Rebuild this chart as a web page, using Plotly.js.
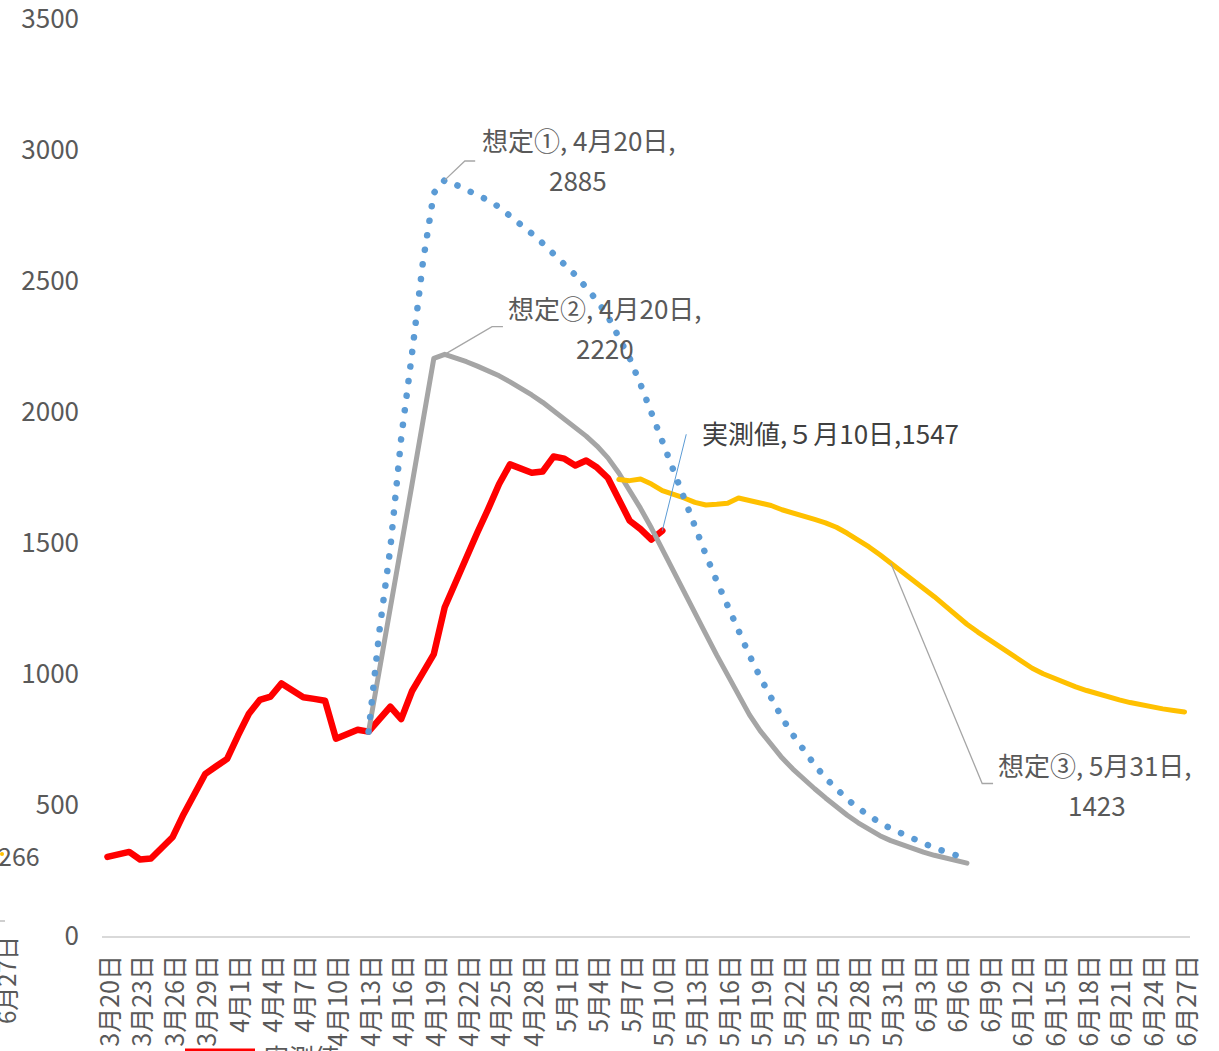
<!DOCTYPE html>
<html>
<head>
<meta charset="utf-8">
<script src="https://cdn.plot.ly/plotly-3.0.1.min.js"></script>
<style>
  html, body { margin: 0; padding: 0; background: #ffffff; }
  #chart { width: 1219px; height: 1051px; }
</style>
</head>
<body>
<div id="chart"></div>
<script>
// Daily categories, 3月20日 – 6月27日
const dates = [
  '3月20日','3月21日','3月22日','3月23日','3月24日','3月25日','3月26日','3月27日','3月28日','3月29日','3月30日','3月31日',
  '4月1日','4月2日','4月3日','4月4日','4月5日','4月6日','4月7日','4月8日','4月9日','4月10日',
  '4月11日','4月12日','4月13日','4月14日','4月15日','4月16日','4月17日','4月18日','4月19日','4月20日',
  '4月21日','4月22日','4月23日','4月24日','4月25日','4月26日','4月27日','4月28日','4月29日','4月30日',
  '5月1日','5月2日','5月3日','5月4日','5月5日','5月6日','5月7日','5月8日','5月9日','5月10日',
  '5月11日','5月12日','5月13日','5月14日','5月15日','5月16日','5月17日','5月18日','5月19日','5月20日',
  '5月21日','5月22日','5月23日','5月24日','5月25日','5月26日','5月27日','5月28日','5月29日','5月30日','5月31日',
  '6月1日','6月2日','6月3日','6月4日','6月5日','6月6日','6月7日','6月8日','6月9日','6月10日',
  '6月11日','6月12日','6月13日','6月14日','6月15日','6月16日','6月17日','6月18日','6月19日','6月20日',
  '6月21日','6月22日','6月23日','6月24日','6月25日','6月26日','6月27日'
];

// Axis tick labels (every third day)
const tickLabels = [
  '3月20日','3月23日','3月26日','3月29日','4月1日','4月4日','4月7日','4月10日','4月13日','4月16日',
  '4月19日','4月22日','4月25日','4月28日','5月1日','5月4日','5月7日','5月10日','5月13日','5月16日',
  '5月19日','5月22日','5月25日','5月28日','5月31日','6月3日','6月6日','6月9日','6月12日','6月15日',
  '6月18日','6月21日','6月24日','6月27日'
];
const yTicks = [0, 500, 1000, 1500, 2000, 2500, 3000, 3500];

// 実測値 (3月20日 – 5月10日)
const actualStart = '3月20日';
const actual = [
  302, 312, 321, 292, 296, 337, 378, 465, 545, 619, 648, 676,
  765, 848, 901, 914, 964, 937, 911, 905, 898, 753, 770, 787,
  780, 830, 875, 828, 935, 1005, 1076, 1255, 1355, 1447, 1540, 1630,
  1725, 1800, 1785, 1768, 1773, 1830, 1822, 1796, 1815, 1788, 1748, 1668,
  1585, 1553, 1513, 1547
];

// 想定① (4月13日 – 6月7日)
const scen1Start = '4月13日';
const scen1 = [
  780, 1165, 1480, 1900, 2225, 2573, 2836, 2885, 2868, 2848, 2830, 2808,
  2782, 2750, 2718, 2681, 2644, 2606, 2565, 2523, 2475, 2425, 2365, 2290,
  2205, 2105, 1995, 1884, 1772, 1665, 1560, 1455, 1355, 1258, 1162, 1072,
  987, 907, 833, 768, 708, 653, 603, 560, 522, 488, 457, 432,
  410, 390, 370, 352, 336, 322, 308, 295
];

// 想定② (4月13日 – 6月7日)
const scen2Start = '4月13日';
const scen2 = [
  780, 1010, 1250, 1490, 1725, 1965, 2205, 2220, 2208, 2192, 2175, 2157,
  2138, 2115, 2092, 2065, 2037, 2005, 1975, 1942, 1908, 1870, 1825, 1767,
  1702, 1632, 1557, 1478, 1397, 1315, 1233, 1152, 1072, 993, 915, 845,
  783, 728, 680, 637, 598, 562, 527, 493, 461, 432, 406, 383,
  364, 348, 333, 320, 308, 297, 287, 278
];

// 想定③ (5月6日 – 6月27日)
const scen3Start = '5月6日';
const scen3 = [
  1742, 1738, 1744, 1725, 1700, 1688, 1672, 1655, 1645, 1648, 1652, 1672,
  1662, 1652, 1643, 1627, 1613, 1603, 1590, 1577, 1560, 1537, 1512, 1485,
  1455, 1423, 1393, 1362, 1330, 1295, 1260, 1224, 1190, 1160, 1132, 1104,
  1076, 1048, 1022, 1001, 983, 966, 951, 937, 924, 912, 901, 891,
  882, 874, 867, 861, 855
];

const seriesNames = ['実測値', '想定①', '想定②', '想定③'];

// ---------- helpers ----------
function xsFrom(start, values) {
  const s = dates.indexOf(start);
  return values.map((_, k) => dates[s + k]);
}
function valueAt(start, values, day) {
  return values[dates.indexOf(day) - dates.indexOf(start)];
}

const FONT = '"Noto Sans CJK JP", "Noto Sans", sans-serif';
const TXT = '#595959';

// plot-area geometry (pixels) used for the paper-positioned edge items
const M = { l: 102, r: 29, t: 19, b: 115 };
const PW = 1219 - M.l - M.r, PH = 1051 - M.t - M.b, BOTTOM = 1051 - M.b;
const px = function (p) { return (p - M.l) / PW; };
const py = function (p) { return (BOTTOM - p) / PH; };

const traces = [
  { name: seriesNames[0], x: xsFrom(actualStart, actual), y: actual, type: 'scatter', mode: 'lines',
    line: { color: '#ff0000', width: 6.5 } },
  { name: seriesNames[2], x: xsFrom(scen2Start, scen2), y: scen2, type: 'scatter', mode: 'lines',
    line: { color: '#a5a5a5', width: 5 } },
  { name: seriesNames[3], x: xsFrom(scen3Start, scen3), y: scen3, type: 'scatter', mode: 'lines',
    line: { color: '#ffc000', width: 5 } },
  { name: seriesNames[1], x: xsFrom(scen1Start, scen1), y: scen1, type: 'scatter', mode: 'lines',
    line: { color: '#5b9bd5', width: 6.5, dash: '0.1px,14.6px' } }
];

// ---------- callout labels ----------
const d1 = '4月20日', d2 = '4月20日', dA = '5月10日', d3 = '5月31日';
const v1 = valueAt(scen1Start, scen1, d1);
const v2 = valueAt(scen2Start, scen2, d2);
const vA = valueAt(actualStart, actual, dA);
const v3 = valueAt(scen3Start, scen3, d3);
const i1 = dates.indexOf(d1), i2 = dates.indexOf(d2), iA = dates.indexOf(dA), i3 = dates.indexOf(d3);

function label(text, x, y, size, color) {
  return { text: text, x: x, y: y, xref: 'x', yref: 'y', showarrow: false,
           xanchor: 'center', yanchor: 'middle',
           font: { family: FONT, size: size || 26, color: color || TXT } };
}

const annotations = [
  label(seriesNames[1] + ', ' + d1 + ',', 43.35, 3040),
  label(String(v1), 43.25, 2887),
  label(seriesNames[2] + ', ' + d2 + ',', 45.74, 2400),
  label(String(v2), 45.74, 2248),
  label(seriesNames[0] + ',５月10日,' + vA, 66.5, 1920, 26, '#404040'),
  label(seriesNames[3] + ', ' + d3 + ',', 90.78, 653),
  label(String(v3), 90.96, 501),
  // partial items at the lower-left edge of the canvas
  { text: '266', xref: 'paper', yref: 'paper', x: px(42), y: py(855),
    xanchor: 'right', yanchor: 'middle', showarrow: false,
    font: { family: FONT, size: 25, color: TXT } },
  { text: '6月27日', xref: 'paper', yref: 'paper', x: px(5), y: py(980),
    xanchor: 'center', yanchor: 'middle', textangle: -90, showarrow: false,
    font: { family: FONT, size: 24, color: TXT } },
  { text: seriesNames[0], xref: 'paper', yref: 'paper', x: px(262), y: py(1036),
    xanchor: 'left', yanchor: 'top', showarrow: false,
    font: { family: FONT, size: 25, color: TXT } }
];

function leader(x0, y0, xe, ye, xt, color, width) {
  let path = 'M ' + x0 + ',' + y0 + ' L ' + xe + ',' + ye;
  if (xt !== null) path += ' L ' + xt + ',' + ye;
  return { type: 'path', xref: 'x', yref: 'y', path: path,
           line: { color: color, width: width || 1.3 } };
}

const shapes = [
  leader(i1, v1, i1 + 1.85, v1 + 73, i1 + 2.8, '#a6a6a6'),
  leader(i2, v2, i2 + 4.35, v2 + 106, i2 + 5.35, '#a6a6a6'),
  leader(iA, vA, iA + 2.2, vA + 368, null, '#5b9bd5', 1),
  leader(i3, v3, i3 + 8.4, v3 - 841, i3 + 9.4, '#a6a6a6'),
  // legend swatch, cut by the lower edge
  { type: 'line', xref: 'paper', yref: 'paper',
    x0: px(185), x1: px(255), y0: py(1051), y1: py(1051),
    line: { color: '#ff0000', width: 5 } },
  // small yellow marker and tick at the left edge
  { type: 'circle', xref: 'paper', yref: 'paper',
    x0: px(0), x1: px(4), y0: py(852), y1: py(856),
    fillcolor: '#ffc000', line: { width: 0 } },
  { type: 'line', xref: 'paper', yref: 'paper',
    x0: px(0), x1: px(5), y0: py(921), y1: py(921),
    line: { color: '#bfbfbf', width: 1.5 } }
];

const layout = {
  width: 1219, height: 1051,
  margin: M,
  paper_bgcolor: '#ffffff', plot_bgcolor: '#ffffff',
  showlegend: false,
  xaxis: {
    type: 'category', categoryorder: 'array', categoryarray: dates,
    range: [-0.5, dates.length - 0.5],
    tickmode: 'array', tickvals: tickLabels, ticktext: tickLabels,
    tickangle: -90, ticks: '', ticklabelstandoff: 7, ticklabelshift: 3,
    tickfont: { family: FONT, size: 25, color: TXT },
    showline: true, linecolor: '#d9d9d9', linewidth: 2,
    showgrid: false, zeroline: false, fixedrange: true
  },
  yaxis: {
    range: [0, 3500], tickmode: 'array', tickvals: yTicks,
    ticks: '', ticklabelstandoff: 22, ticklabeloverflow: 'allow',
    tickfont: { family: FONT, size: 26, color: TXT },
    showline: false, showgrid: false, zeroline: false, fixedrange: true
  },
  annotations: annotations,
  shapes: shapes
};

Plotly.newPlot('chart', traces, layout, { displayModeBar: false, staticPlot: true }).then(function (gd) {
  // rounded caps/joins for the series lines (also turns the dash pattern into round dots)
  gd.querySelectorAll('.scatterlayer path.js-line').forEach(function (p) {
    p.style.strokeLinecap = 'round';
    p.style.strokeLinejoin = 'round';
  });
});
</script>
</body>
</html>
